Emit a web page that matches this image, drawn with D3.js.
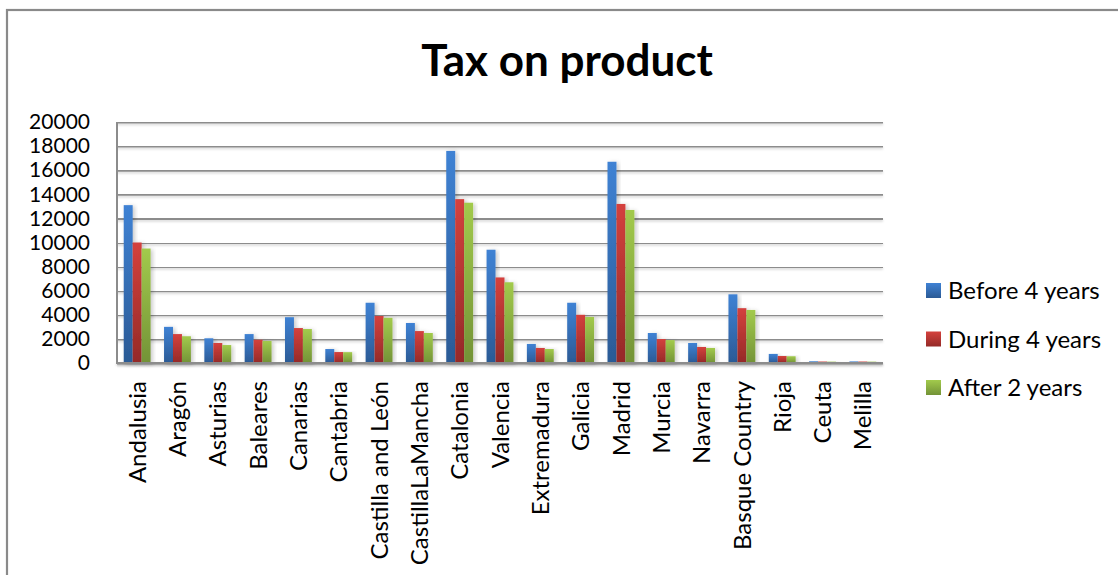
<!DOCTYPE html>
<html>
<head>
<meta charset="utf-8">
<script src="https://cdn.jsdelivr.net/npm/d3@7"></script>
<style>
  html, body { margin: 0; padding: 0; background: #fff; }
  svg { display: block; font-family: Lato, "Noto Sans", sans-serif; }
</style>
</head>
<body>
<svg id="chart" width="1118" height="575"></svg>
<script>
// Regions of Spain
const categories = ["Andalusia", "Aragón", "Asturias", "Baleares", "Canarias", "Cantabria",
  "Castilla and León", "CastillaLaMancha", "Catalonia", "Valencia", "Extremadura", "Galicia",
  "Madrid", "Murcia", "Navarra", "Basque Country", "Rioja", "Ceuta", "Melilla"];

const seriesNames = ["Before 4 years", "During 4 years", "After 2 years"];

const before4 = [13100, 3000, 2050, 2400, 3800, 1160, 5000, 3320, 17600, 9400, 1580, 5000, 16700, 2490, 1660, 5700, 750, 140, 130];
const during4 = [10000, 2400, 1660, 1930, 2900, 910, 3900, 2650, 13600, 7100, 1250, 4000, 13200, 1990, 1330, 4550, 580, 120, 120];
const after2  = [9500, 2220, 1490, 1830, 2820, 900, 3750, 2490, 13300, 6700, 1160, 3820, 12700, 1900, 1250, 4400, 560, 110, 110];

const yTicks = [0, 2000, 4000, 6000, 8000, 10000, 12000, 14000, 16000, 18000, 20000];

const seriesValues = [before4, during4, after2];
const palette = [
  { top: "#3f82d4", bottom: "#2b5a95" },
  { top: "#d4413d", bottom: "#952a28" },
  { top: "#a2ca4c", bottom: "#739337" }
];

const W = 1118, H = 575;
const svg = d3.select("#chart");
const defs = svg.append("defs");

palette.forEach((c, i) => {
  const g = defs.append("linearGradient").attr("id", "grad" + i)
    .attr("x1", 0).attr("y1", 0).attr("x2", 0).attr("y2", 1);
  g.append("stop").attr("offset", "0%").attr("stop-color", c.top);
  g.append("stop").attr("offset", "100%").attr("stop-color", c.bottom);
});

const shadow = defs.append("filter").attr("id", "barShadow")
  .attr("x", "-30%").attr("y", "-10%").attr("width", "180%").attr("height", "130%");
shadow.append("feDropShadow").attr("dx", 2).attr("dy", 1).attr("stdDeviation", 2)
  .attr("flood-color", "#000").attr("flood-opacity", 0.22);

// Straight lines have a zero-height box, so this filter works in user space
const lineShadow = defs.append("filter").attr("id", "lineShadow")
  .attr("filterUnits", "userSpaceOnUse")
  .attr("x", 0).attr("y", 0).attr("width", W).attr("height", H);
lineShadow.append("feDropShadow").attr("dx", 0).attr("dy", 1.5).attr("stdDeviation", 1)
  .attr("flood-color", "#000").attr("flood-opacity", 0.18);

// Chart area frame
svg.append("rect").attr("x", 7).attr("y", 10).attr("width", 1300).attr("height", 800)
  .attr("fill", "none").attr("stroke", "#8a8a8a").attr("stroke-width", 2.2);

// Title
svg.append("text").attr("x", 567).attr("y", 76).attr("text-anchor", "middle")
  .attr("font-size", 44).attr("font-weight", 700).attr("fill", "#000")
  .text("Tax on product");

const plot = { left: 117, right: 883, top: 122, bottom: 363 };

const x0 = d3.scaleBand().domain(categories)
  .range([plot.left, plot.right]).paddingInner(1 / 3).paddingOuter(1 / 6);
const x1 = d3.scaleBand().domain(d3.range(seriesNames.length)).range([0, x0.bandwidth()]);
const y = d3.scaleLinear().domain([0, 20000]).range([plot.bottom, plot.top]);

// Gridlines and value labels
const yAxis = d3.axisLeft(y).tickValues(yTicks).tickSize(-(plot.right - plot.left)).tickFormat(d3.format("d"));
const gy = svg.append("g").attr("transform", `translate(${plot.left},0)`).call(yAxis);
gy.select(".domain").remove();
gy.selectAll(".tick line").attr("stroke", "#8c8c8c").attr("stroke-width", 2).attr("filter", "url(#lineShadow)");
gy.selectAll(".tick text").attr("x", -27).attr("font-size", 21).attr("fill", "#000")
  .attr("font-family", "Lato, 'Noto Sans', sans-serif");

// Vertical axis line
svg.append("line").attr("x1", plot.left).attr("x2", plot.left)
  .attr("y1", plot.top).attr("y2", plot.bottom + 1)
  .attr("stroke", "#8c8c8c").attr("stroke-width", 2);

// Bars
const groups = svg.append("g").selectAll("g").data(categories).join("g")
  .attr("transform", d => `translate(${x0(d)},0)`);
groups.selectAll("rect")
  .data((d, i) => seriesValues.map((vals, s) => ({ s, v: vals[i] })))
  .join("rect")
  .attr("x", d => x1(d.s))
  .attr("width", x1.bandwidth())
  .attr("y", d => y(d.v))
  .attr("height", d => y(0) - y(d.v))
  .attr("fill", d => `url(#grad${d.s})`)
  .attr("filter", "url(#barShadow)");

// Baseline drawn over the bar feet
svg.append("line").attr("x1", plot.left - 1).attr("x2", plot.right)
  .attr("y1", plot.bottom).attr("y2", plot.bottom)
  .attr("stroke", "#8c8c8c").attr("stroke-width", 2.2).attr("filter", "url(#lineShadow)");

// Category labels
const xAxis = d3.axisBottom(x0).tickSize(0);
const gx = svg.append("g").attr("transform", `translate(0,${plot.bottom})`).call(xAxis);
gx.select(".domain").remove();
gx.selectAll(".tick text")
  .attr("transform", "rotate(-90)")
  .attr("text-anchor", "end")
  .attr("x", -18).attr("y", 0).attr("dy", "0.36em")
  .attr("font-size", 24).attr("fill", "#000")
  .attr("font-family", "Lato, 'Noto Sans', sans-serif");

// Legend
const legend = svg.append("g").attr("transform", "translate(926,283)");
const items = legend.selectAll("g").data(seriesNames).join("g")
  .attr("transform", (d, i) => `translate(0,${i * 48.5})`);
items.append("rect").attr("width", 15).attr("height", 15)
  .attr("fill", (d, i) => `url(#grad${i})`);
items.append("text").attr("x", 22).attr("y", 7.5).attr("dy", "0.36em")
  .attr("font-size", 24).attr("fill", "#000").text(d => d);
</script>
</body>
</html>
